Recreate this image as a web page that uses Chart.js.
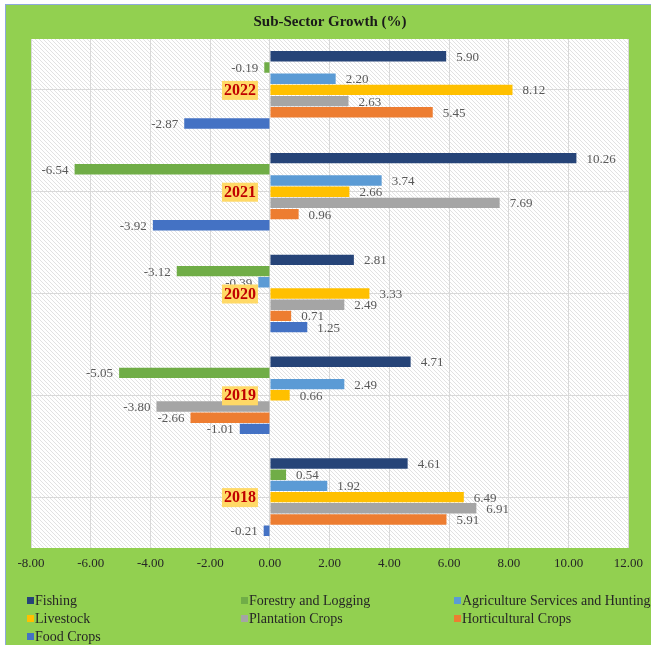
<!DOCTYPE html>
<html>
<head>
<meta charset="utf-8">
<script src="https://cdn.jsdelivr.net/npm/chart.js@4.4.0/dist/chart.umd.min.js"></script>
<style>
  html, body { margin: 0; padding: 0; background: #fff; }
  #wrap { width: 651px; height: 645px; }
</style>
</head>
<body>
<div id="wrap"><canvas id="growthChart" width="651" height="645"></canvas></div>
<script>
// data
var years = ["2022", "2021", "2020", "2019", "2018"];
var fishing = [5.90, 10.26, 2.81, 4.71, 4.61];
var forestry = [-0.19, -6.54, -3.12, -5.05, 0.54];
var agriServices = [2.20, 3.74, -0.39, 2.49, 1.92];
var livestock = [8.12, 2.66, 3.33, 0.66, 6.49];
var plantation = [2.63, 7.69, 2.49, -3.80, 6.91];
var horticultural = [5.45, 0.96, 0.71, -2.66, 5.91];
var foodCrops = [-2.87, -3.92, 1.25, -1.01, -0.21];
var xTicks = [-8, -6, -4, -2, 0, 2, 4, 6, 8, 10, 12];

var serif = "'Liberation Serif', 'Times New Roman', serif";

var series = [
  { label: "Fishing", data: fishing, color: "#264478" },
  { label: "Forestry and Logging", data: forestry, color: "#70AD47" },
  { label: "Agriculture Services and Hunting", data: agriServices, color: "#5B9BD5" },
  { label: "Livestock", data: livestock, color: "#FFC000" },
  { label: "Plantation Crops", data: plantation, color: "#A5A5A5" },
  { label: "Horticultural Crops", data: horticultural, color: "#ED7D31" },
  { label: "Food Crops", data: foodCrops, color: "#4472C4" }
];

// background: green frame + hatched plot area
var backgroundPlugin = {
  id: "background",
  beforeDraw: function (chart) {
    var ctx = chart.ctx;
    var a = chart.chartArea;
    ctx.save();
    ctx.fillStyle = "#ffffff";
    ctx.fillRect(0, 0, chart.width, chart.height);
    ctx.fillStyle = "#92D050";
    ctx.fillRect(5, 4, chart.width - 5, chart.height - 4);
    ctx.fillStyle = "#8EA9DB";
    ctx.fillRect(5, 4, chart.width - 5, 1);
    ctx.fillRect(5, 4, 1, chart.height - 4);

    ctx.fillStyle = "#ffffff";
    ctx.fillRect(a.left, a.top, a.right - a.left, a.bottom - a.top);
    var tile = document.createElement("canvas");
    tile.width = 4;
    tile.height = 4;
    var t = tile.getContext("2d");
    t.fillStyle = "#E2E2E2";
    for (var i = 0; i < 4; i++) t.fillRect(i, i, 1, 1);
    ctx.fillStyle = ctx.createPattern(tile, "repeat");
    ctx.fillRect(a.left, a.top, a.right - a.left, a.bottom - a.top);
    ctx.restore();
  }
};

// value labels at the bar ends, then the year labels at the zero line
var labelsPlugin = {
  id: "barLabels",
  afterDatasetsDraw: function (chart) {
    var ctx = chart.ctx;
    ctx.save();
    ctx.font = "13px " + serif;
    ctx.fillStyle = "#595959";
    ctx.textBaseline = "middle";
    chart.data.datasets.forEach(function (ds, di) {
      chart.getDatasetMeta(di).data.forEach(function (bar, i) {
        var v = ds.data[i];
        if (v >= 0) {
          ctx.textAlign = "left";
          ctx.fillText(v.toFixed(2), bar.x + 10, bar.y + 1);
        } else {
          ctx.textAlign = "right";
          ctx.fillText(v.toFixed(2), bar.x - 6, bar.y + 1);
        }
      });
    });

    var x0 = chart.scales.x.getPixelForValue(0);
    ctx.font = "bold 16px " + serif;
    ctx.textAlign = "right";
    chart.data.labels.forEach(function (lab, i) {
      var y = chart.scales.y.getPixelForValue(i);
      var w = ctx.measureText(lab).width;
      var right = x0 - 14;
      ctx.fillStyle = "#FFD966";
      ctx.fillRect(right - w - 2, y - 9, w + 4, 19);
      ctx.fillStyle = "#C00000";
      ctx.fillText(lab, right, y + 1);
    });
    ctx.restore();
  }
};

// three-column legend under the axis
var legendPlugin = {
  id: "colLegend",
  afterDraw: function (chart) {
    var ctx = chart.ctx;
    var cols = [27, 241, 454];
    var rows = [601, 619, 637];
    ctx.save();
    ctx.font = "14px " + serif;
    ctx.textAlign = "left";
    ctx.textBaseline = "middle";
    chart.data.datasets.forEach(function (ds, i) {
      var x = cols[i % 3];
      var y = rows[Math.floor(i / 3)];
      ctx.fillStyle = ds.backgroundColor;
      ctx.fillRect(x, y - 4, 7, 7);
      ctx.fillStyle = "#262626";
      ctx.fillText(ds.label, x + 8, y);
    });
    ctx.restore();
  }
};

new Chart(document.getElementById("growthChart"), {
  type: "bar",
  data: {
    labels: years,
    datasets: series.map(function (s) {
      return {
        label: s.label,
        data: s.data,
        backgroundColor: s.color,
        borderWidth: 0,
        categoryPercentage: 0.77,
        barPercentage: 0.93
      };
    })
  },
  options: {
    indexAxis: "y",
    responsive: false,
    animation: false,
    layout: { padding: { left: 31, right: 22, top: 0, bottom: 69 } },
    plugins: {
      legend: { display: false },
      tooltip: { enabled: false },
      title: {
        display: true,
        text: "Sub-Sector Growth (%)",
        color: "#1a1a1a",
        font: { family: serif, size: 15, weight: "bold" },
        padding: { top: 13, bottom: 8 }
      }
    },
    scales: {
      x: {
        min: -8,
        max: 12,
        afterBuildTicks: function (scale) {
          scale.ticks = xTicks.map(function (v) { return { value: v }; });
        },
        afterFit: function (scale) { scale.height = 28; },
        ticks: {
          color: "#262626",
          font: { family: serif, size: 13 },
          padding: 8,
          maxRotation: 0,
          callback: function (v) { return Number(v).toFixed(2); }
        },
        grid: { color: "#D9D9D9", drawTicks: false },
        border: { display: false }
      },
      y: {
        ticks: { display: false },
        grid: { color: "#D9D9D9", offset: false, drawTicks: false },
        border: { display: false }
      }
    }
  },
  plugins: [backgroundPlugin, labelsPlugin, legendPlugin]
});
</script>
</body>
</html>
